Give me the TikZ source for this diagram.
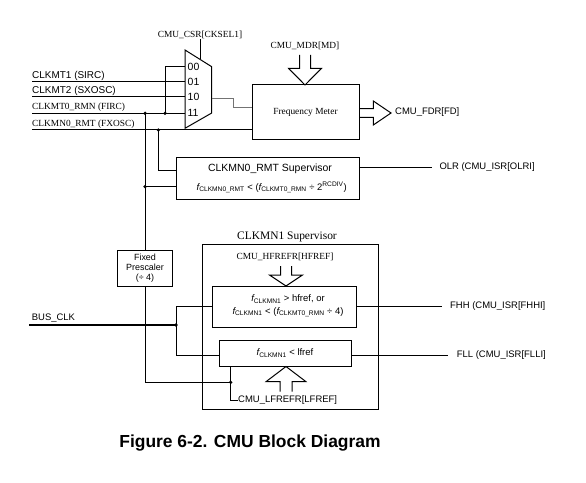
\documentclass[tikz,border=0pt]{standalone}
\usepackage{fontspec}
\setmainfont{Liberation Serif}
\setsansfont{Liberation Sans}
\newcommand{\fsb}[1]{{\itshape f}\textsubscript{#1}}
\begin{document}
\begin{tikzpicture}[x=1bp,y=-1bp,
  line/.style={line width=1bp},
  box/.style={draw,line width=1bp,inner sep=0pt},
  sflab/.style={font=\fontsize{9.5}{10.5}\selectfont\sffamily,inner sep=0pt},
  sfbig/.style={font=\fontsize{10}{11}\selectfont\sffamily,inner sep=0pt},
  rmlab/.style={font=\fontsize{9.4}{10.5}\selectfont\rmfamily,inner sep=0pt},
  dot/.style={circle,fill,inner sep=0pt,minimum size=3.6bp},
  hollow/.style={line width=1bp,line join=miter}]
\useasboundingbox (0,0) rectangle (586,483);
\fill[white] (0,0) rectangle (586,483);

% ---------- multiplexer ----------
\draw[line] (185,50) -- (211.7,66.7) -- (211.7,113) -- (185,128.3) -- cycle;
\coordinate (p00) at (185,66.7);
\coordinate (p01) at (185,81.7);
\coordinate (p10) at (185,96.7);
\coordinate (p11) at (185,113.3);
\coordinate (mout) at (211.7,99);
\coordinate (msel) at (200,59.4);
\coordinate (mbend) at (233.3,99);
\foreach \t/\y in {00/66.7,01/81.7,10/96.7,11/113.3}
  \node[font=\fontsize{10.5}{11}\selectfont\sffamily,inner sep=0pt,anchor=west] (ml\t) at (187.5,\y) {\t};
\node[rmlab] (cksel) at (200,35) {CMU\_CSR[CKSEL1]};
\draw[line] (cksel.south) -- (msel);

% ---------- inputs ----------
\coordinate (s1) at (32,81.7);
\coordinate (s2) at (32,96.7);
\coordinate (s3) at (32,113.3);
\coordinate (s4) at (32,130);
\node[sfbig,anchor=base west] (l1) at (32,78.2) {CLKMT1 (SIRC)};
\node[sfbig,anchor=base west] (l2) at (32,93.2) {CLKMT2 (SXOSC)};
\node[rmlab,anchor=base west] (l3) at (32,109.8) {CLKMT0\_RMN (FIRC)};
\node[rmlab,anchor=base west] (l4) at (32,126.5) {CLKMN0\_RMT (FXOSC)};

\node[dot] (d1) at (145,113.3) {};
\node[dot] (d2) at (165,113.3) {};
\node[dot] (d3) at (158.3,130) {};
\node[dot] (d4) at (145,186.7) {};

% ---------- frequency meter ----------
\node[box,minimum width=107bp,minimum height=55bp,font=\fontsize{9.4}{10.5}\selectfont\rmfamily] (fm) at (305.5,112.5) {Frequency Meter};
\coordinate (fmin) at (252,107.7);

\draw[line] (s1) -- (p01);
\draw[line] (s2) -- (p10);
\draw[line] (s3) -- (p11);
\draw[line] (d2.center) |- (p00);
\draw[line] (s4) -- (s4 -| fm.west);
\draw[line,color=black!55] (mout) -- (mbend) |- (fmin);

% MDR hollow arrow (down)
\node[rmlab] (mdr) at (305,46) {CMU\_MDR[MD]};
\draw[hollow] (299.5,55) -- (299.5,68.3) -- (288.5,68.3) -- (305,85) -- (321.5,68.3) -- (310.5,68.3) -- (310.5,55);
% FDR hollow arrow (right)
\draw[hollow] (fm.east |- 0,108.6) -- (373.3,108.6) -- (373.3,101) -- (391,113) -- (373.3,125) -- (373.3,117.4) -- (fm.east |- 0,117.4);
\node[sflab,anchor=west] (fdr) at (395,112.5) {CMU\_FDR[FD]};

% ---------- CLKMN0_RMT supervisor ----------
\node[box,minimum width=182.3bp,minimum height=42.7bp] (sup0) at (267.85,178.65) {};
\node[font=\fontsize{10.5}{12}\selectfont\sffamily,inner sep=0pt] (sup0t) at (270,168.3) {CLKMN0\_RMT Supervisor};
\node[sflab] (sup0f) at (271.7,187.3) {\fsb{CLKMN0\_RMT} < (\fsb{CLKMT0\_RMN} ÷ 2\textsuperscript{RCDIV})};
\coordinate (sin1) at (176.7,170.7);
\draw[line] (d3.center) |- (sin1);
\draw[line] (d1.center) -- (d4.center);
\draw[line] (d4.center) -- (d4 -| sup0.west);
\coordinate (o1) at (431.7,167.3);
\draw[line] (sup0.east |- o1) -- (o1);
\node[sflab,anchor=west] (olr) at (439.3,167.3) {OLR (CMU\_ISR[OLRI]};

% ---------- prescaler ----------
\node[box,minimum width=55bp,minimum height=36bp,align=center,font=\fontsize{9}{10}\selectfont\sffamily] (presc) at (145,268) {Fixed\\Prescaler\\(÷ 4)};
\draw[line] (d4.center) -- (presc.north);

% ---------- CLKMN1 supervisor ----------
\node[box,minimum width=176bp,minimum height=164.3bp] (sup1) at (290.3,327.15) {};
\node[font=\fontsize{11.5}{13}\selectfont\rmfamily,inner sep=0pt] (sup1t) at (287,236.7) {CLKMN1 Supervisor};
\node[rmlab] (hfl) at (285,256.7) {CMU\_HFREFR[HFREF]};
\draw[hollow] (280.5,266) -- (280.5,275) -- (269.5,275) -- (286,286) -- (302.5,275) -- (291.5,275) -- (291.5,266);
\node[box,minimum width=144bp,minimum height=41.3bp] (hbox) at (284.3,306.65) {};
\node[sflab,align=center] (htxt) at (288,306) {\fsb{CLKMN1} > hfref, or\\[2pt]\fsb{CLKMN1} < (\fsb{CLKMT0\_RMN} ÷ 4)};
\node[box,minimum width=132.4bp,minimum height=26bp] (lbox) at (285.5,353) {};
\node[sflab] (ltxt) at (285,353) {\fsb{CLKMN1} < lfref};
\draw[hollow] (280,391.7) -- (280,381.7) -- (266,381.7) -- (286,366.5) -- (306,381.7) -- (292,381.7) -- (292,391.7);
\node[sflab,anchor=west] (lfl) at (238,400) {CMU\_LFREFR[LFREF]};
\coordinate (lfa) at (230.7,366);
\draw[line] (lfa) |- (lfl.west);

\coordinate (o2) at (441.7,306);
\draw[line] (hbox.east |- o2) -- (o2);
\node[sflab,anchor=west] (fhh) at (450,306) {FHH (CMU\_ISR[FHHI]};
\coordinate (o3) at (448.3,355);
\draw[line] (lbox.east |- o3) -- (o3);
\node[sflab,anchor=west] (fll) at (456.7,355) {FLL (CMU\_ISR[FLLI]};

% ---------- BUS_CLK ----------
\node[dot] (d5) at (176,325) {};
\node[dot] (d6) at (230.7,382.3) {};
\coordinate (bus) at (29,325);
\node[sflab,anchor=base west] (busl) at (31.7,320) {BUS\_CLK};
\draw[line width=2.8bp] (bus) -- (d5.center);
\coordinate (bt) at (176,306);
\coordinate (bb) at (176,355.5);
\draw[line] (hbox.west |- bt) -- (bt) -- (bb) -- (lbox.west |- bb);
\draw[line] (presc.south) |- (d6.center);

% ---------- caption ----------
\node[font=\fontsize{17.5}{20}\selectfont\sffamily\bfseries,anchor=base,inner sep=0pt] (cap) at (250,447) {Figure 6-2. CMU Block Diagram};
\end{tikzpicture}
\end{document}
